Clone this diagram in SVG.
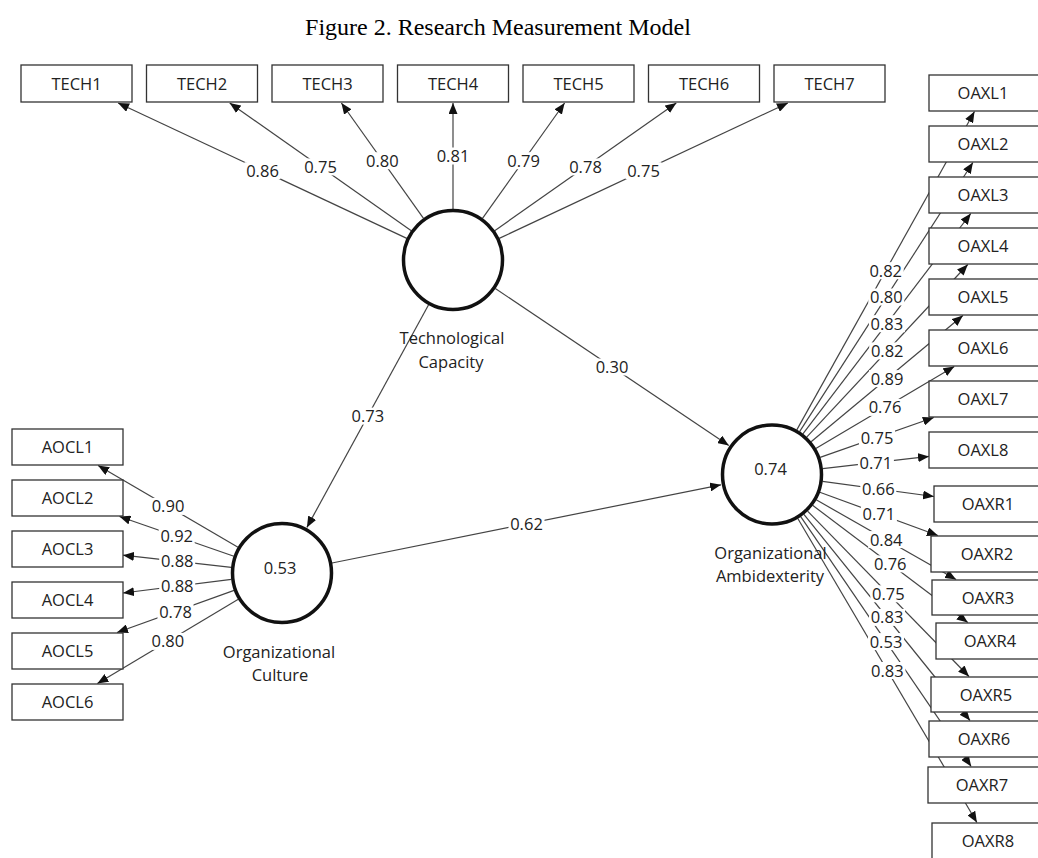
<svg xmlns="http://www.w3.org/2000/svg" width="1038" height="858" viewBox="0 0 1038 858">
<defs>
<marker id="ah" viewBox="0 0 11 9" refX="11" refY="4.5" markerWidth="11" markerHeight="9" markerUnits="userSpaceOnUse" orient="auto"><path d="M0,0 L11,4.5 L0,9 z" fill="#111"/></marker>
<style>
.ln{stroke:#444;stroke-width:1.2;fill:none;marker-end:url(#ah)}
.box{fill:#fff;stroke:#333;stroke-width:1.3}
.lv{fill:#fff;stroke:#111;stroke-width:3.5}
.t{font-family:"Open Sans","Noto Sans","DejaVu Sans",sans-serif;font-size:16.5px;fill:#222;text-anchor:middle}
.lb rect{fill:#fff}
.title{font-family:"Liberation Serif","Times New Roman",serif;font-size:24px;fill:#000;text-anchor:middle}
</style>
</defs>
<rect width="1038" height="858" fill="#fff"/>
<text class="title" x="498" y="35">Figure 2. Research Measurement Model</text>

<g id="connectors">
<line class="ln" x1="406.8" y1="238.4" x2="118.1" y2="103"/>
<line class="ln" x1="411.3" y1="230.7" x2="229.7" y2="103"/>
<line class="ln" x1="423.5" y1="218.4" x2="341.4" y2="103"/>
<line class="ln" x1="453" y1="209" x2="453" y2="103"/>
<line class="ln" x1="482.5" y1="218.4" x2="564.6" y2="103"/>
<line class="ln" x1="494.7" y1="230.7" x2="676.3" y2="103"/>
<line class="ln" x1="499.2" y1="238.4" x2="787.9" y2="103"/>
<line class="ln" x1="428.6" y1="304.8" x2="306.9" y2="527.4"/>
<line class="ln" x1="495.3" y1="288.5" x2="728.8" y2="445.5"/>
<line class="ln" x1="332" y1="563" x2="721" y2="484.8"/>
<line class="ln" x1="238" y1="547.2" x2="98.1" y2="465.5"/>
<line class="ln" x1="233.9" y1="556.2" x2="119.5" y2="516.5"/>
<line class="ln" x1="231.3" y1="567.3" x2="123" y2="555.2"/>
<line class="ln" x1="231.4" y1="579.4" x2="123" y2="593"/>
<line class="ln" x1="234.1" y1="590.4" x2="117" y2="632.5"/>
<line class="ln" x1="238.3" y1="599.3" x2="97.4" y2="683.5"/>
<line class="ln" x1="796.8" y1="429.9" x2="974.5" y2="111.5"/>
<line class="ln" x1="799.6" y1="431.6" x2="972.9" y2="162.5"/>
<line class="ln" x1="802.9" y1="433.9" x2="970.8" y2="213.5"/>
<line class="ln" x1="806.7" y1="437.2" x2="967.8" y2="264.5"/>
<line class="ln" x1="811.1" y1="441.8" x2="962.9" y2="315.5"/>
<line class="ln" x1="815.8" y1="448.4" x2="954.3" y2="366.5"/>
<line class="ln" x1="820.1" y1="457.4" x2="933.8" y2="417.5"/>
<line class="ln" x1="822.7" y1="468.7" x2="929" y2="456.4"/>
<line class="ln" x1="822.5" y1="481.4" x2="934" y2="496.5"/>
<line class="ln" x1="819.8" y1="492.2" x2="937.9" y2="535.5"/>
<line class="ln" x1="816.2" y1="499.8" x2="956.1" y2="579.5"/>
<line class="ln" x1="812.6" y1="505.3" x2="967.8" y2="622.5"/>
<line class="ln" x1="807.6" y1="511.1" x2="969" y2="676.5"/>
<line class="ln" x1="803.9" y1="514.3" x2="970" y2="720.5"/>
<line class="ln" x1="800.7" y1="516.7" x2="971.2" y2="766.5"/>
<line class="ln" x1="797.8" y1="518.5" x2="976.9" y2="822.5"/>
</g>

<g id="labels" class="lb">
<rect x="244.5" y="162.2" width="36" height="17"/><text class="t" x="262.5" y="176.7">0.86</text>
<rect x="302.5" y="158.4" width="36" height="17"/><text class="t" x="320.5" y="172.9">0.75</text>
<rect x="364.4" y="152.2" width="36" height="17"/><text class="t" x="382.4" y="166.7">0.80</text>
<rect x="435" y="147.5" width="36" height="17"/><text class="t" x="453" y="162">0.81</text>
<rect x="505.6" y="152.2" width="36" height="17"/><text class="t" x="523.6" y="166.7">0.79</text>
<rect x="567.5" y="158.4" width="36" height="17"/><text class="t" x="585.5" y="172.9">0.78</text>
<rect x="625.5" y="162.2" width="36" height="17"/><text class="t" x="643.5" y="176.7">0.75</text>
<rect x="349.8" y="407.6" width="36" height="17"/><text class="t" x="367.8" y="422.1">0.73</text>
<rect x="594" y="358.5" width="36" height="17"/><text class="t" x="612" y="373">0.30</text>
<rect x="508.5" y="515.4" width="36" height="17"/><text class="t" x="526.5" y="529.9">0.62</text>
<rect x="150" y="497.9" width="36" height="17"/><text class="t" x="168" y="512.4">0.90</text>
<rect x="158.7" y="527.9" width="36" height="17"/><text class="t" x="176.7" y="542.4">0.92</text>
<rect x="159.2" y="552.8" width="36" height="17"/><text class="t" x="177.2" y="567.3">0.88</text>
<rect x="159.2" y="577.7" width="36" height="17"/><text class="t" x="177.2" y="592.2">0.88</text>
<rect x="157.5" y="603" width="36" height="17"/><text class="t" x="175.5" y="617.5">0.78</text>
<rect x="149.9" y="632.9" width="36" height="17"/><text class="t" x="167.9" y="647.4">0.80</text>
<rect x="867.7" y="262.2" width="36" height="17"/><text class="t" x="885.7" y="276.7">0.82</text>
<rect x="868.3" y="288.5" width="36" height="17"/><text class="t" x="886.3" y="303">0.80</text>
<rect x="868.9" y="315.2" width="36" height="17"/><text class="t" x="886.9" y="329.7">0.83</text>
<rect x="869.2" y="342.4" width="36" height="17"/><text class="t" x="887.2" y="356.9">0.82</text>
<rect x="869" y="370.1" width="36" height="17"/><text class="t" x="887" y="384.6">0.89</text>
<rect x="867" y="398.9" width="36" height="17"/><text class="t" x="885" y="413.4">0.76</text>
<rect x="859" y="429" width="36" height="17"/><text class="t" x="877" y="443.5">0.75</text>
<rect x="857.9" y="454" width="36" height="17"/><text class="t" x="875.9" y="468.5">0.71</text>
<rect x="860.3" y="480.5" width="36" height="17"/><text class="t" x="878.3" y="495">0.66</text>
<rect x="860.9" y="505.4" width="36" height="17"/><text class="t" x="878.9" y="519.9">0.71</text>
<rect x="868.2" y="531.1" width="36" height="17"/><text class="t" x="886.2" y="545.6">0.84</text>
<rect x="872.2" y="555.4" width="36" height="17"/><text class="t" x="890.2" y="569.9">0.76</text>
<rect x="870.3" y="585.3" width="36" height="17"/><text class="t" x="888.3" y="599.8">0.75</text>
<rect x="869" y="608.9" width="36" height="17"/><text class="t" x="887" y="623.4">0.83</text>
<rect x="868" y="633.1" width="36" height="17"/><text class="t" x="886" y="647.6">0.53</text>
<rect x="869.4" y="662" width="36" height="17"/><text class="t" x="887.4" y="676.5">0.83</text>
</g>

<g id="TECH1"><rect class="box" x="21" y="65" width="111" height="37"/><text class="t" x="76.5" y="89.5">TECH1</text></g>
<g id="TECH2"><rect class="box" x="146.5" y="65" width="111" height="37"/><text class="t" x="202" y="89.5">TECH2</text></g>
<g id="TECH3"><rect class="box" x="272" y="65" width="111" height="37"/><text class="t" x="327.5" y="89.5">TECH3</text></g>
<g id="TECH4"><rect class="box" x="397.5" y="65" width="111" height="37"/><text class="t" x="453" y="89.5">TECH4</text></g>
<g id="TECH5"><rect class="box" x="523" y="65" width="111" height="37"/><text class="t" x="578.5" y="89.5">TECH5</text></g>
<g id="TECH6"><rect class="box" x="648.5" y="65" width="111" height="37"/><text class="t" x="704" y="89.5">TECH6</text></g>
<g id="TECH7"><rect class="box" x="774" y="65" width="111" height="37"/><text class="t" x="829.5" y="89.5">TECH7</text></g>

<g id="AOCL1"><rect class="box" x="12" y="429" width="111" height="36"/><text class="t" x="67.5" y="453">AOCL1</text></g>
<g id="AOCL2"><rect class="box" x="12" y="480" width="111" height="36"/><text class="t" x="67.5" y="504">AOCL2</text></g>
<g id="AOCL3"><rect class="box" x="12" y="531" width="111" height="36"/><text class="t" x="67.5" y="555">AOCL3</text></g>
<g id="AOCL4"><rect class="box" x="12" y="582" width="111" height="36"/><text class="t" x="67.5" y="606">AOCL4</text></g>
<g id="AOCL5"><rect class="box" x="12" y="633" width="111" height="36"/><text class="t" x="67.5" y="657">AOCL5</text></g>
<g id="AOCL6"><rect class="box" x="12" y="684" width="111" height="36"/><text class="t" x="67.5" y="708">AOCL6</text></g>

<g id="OAXL1"><rect class="box" x="929" y="75" width="111" height="36"/><text class="t" x="983" y="99">OAXL1</text></g>
<g id="OAXL2"><rect class="box" x="929" y="126" width="111" height="36"/><text class="t" x="983" y="150">OAXL2</text></g>
<g id="OAXL3"><rect class="box" x="929" y="177" width="111" height="36"/><text class="t" x="983" y="201">OAXL3</text></g>
<g id="OAXL4"><rect class="box" x="929" y="228" width="111" height="36"/><text class="t" x="983" y="252">OAXL4</text></g>
<g id="OAXL5"><rect class="box" x="929" y="279" width="111" height="36"/><text class="t" x="983" y="303">OAXL5</text></g>
<g id="OAXL6"><rect class="box" x="929" y="330" width="111" height="36"/><text class="t" x="983" y="354">OAXL6</text></g>
<g id="OAXL7"><rect class="box" x="929" y="381" width="111" height="36"/><text class="t" x="983" y="405">OAXL7</text></g>
<g id="OAXL8"><rect class="box" x="929" y="432" width="111" height="36"/><text class="t" x="983" y="456">OAXL8</text></g>
<g id="OAXR1"><rect class="box" x="934" y="486" width="111" height="36"/><text class="t" x="988" y="510">OAXR1</text></g>
<g id="OAXR2"><rect class="box" x="931" y="536" width="111" height="36"/><text class="t" x="987" y="560">OAXR2</text></g>
<g id="OAXR3"><rect class="box" x="932" y="580" width="111" height="35"/><text class="t" x="988" y="603.5">OAXR3</text></g>
<g id="OAXR4"><rect class="box" x="936" y="623" width="111" height="36"/><text class="t" x="990" y="647">OAXR4</text></g>
<g id="OAXR5"><rect class="box" x="931" y="677" width="111" height="35"/><text class="t" x="986" y="700.5">OAXR5</text></g>
<g id="OAXR6"><rect class="box" x="929" y="721" width="111" height="36"/><text class="t" x="984" y="745">OAXR6</text></g>
<g id="OAXR7"><rect class="box" x="928" y="767" width="111" height="36"/><text class="t" x="982" y="791">OAXR7</text></g>
<g id="OAXR8"><rect class="box" x="932" y="823" width="111" height="40"/><text class="t" x="988" y="847">OAXR8</text></g>

<g id="TC"><circle class="lv" cx="453" cy="260" r="49.5"/><text class="t" x="452" y="344">Technological</text><text class="t" x="451" y="367.5">Capacity</text></g>
<g id="OC"><circle class="lv" cx="282" cy="573" r="49.5"/><text class="t" x="280" y="574">0.53</text><text class="t" x="279" y="657.5">Organizational</text><text class="t" x="280" y="681">Culture</text></g>
<g id="OA"><circle class="lv" cx="772" cy="474.5" r="49.5"/><text class="t" x="770.5" y="475">0.74</text><text class="t" x="770.5" y="559">Organizational</text><text class="t" x="770" y="581.5">Ambidexterity</text></g>
</svg>
